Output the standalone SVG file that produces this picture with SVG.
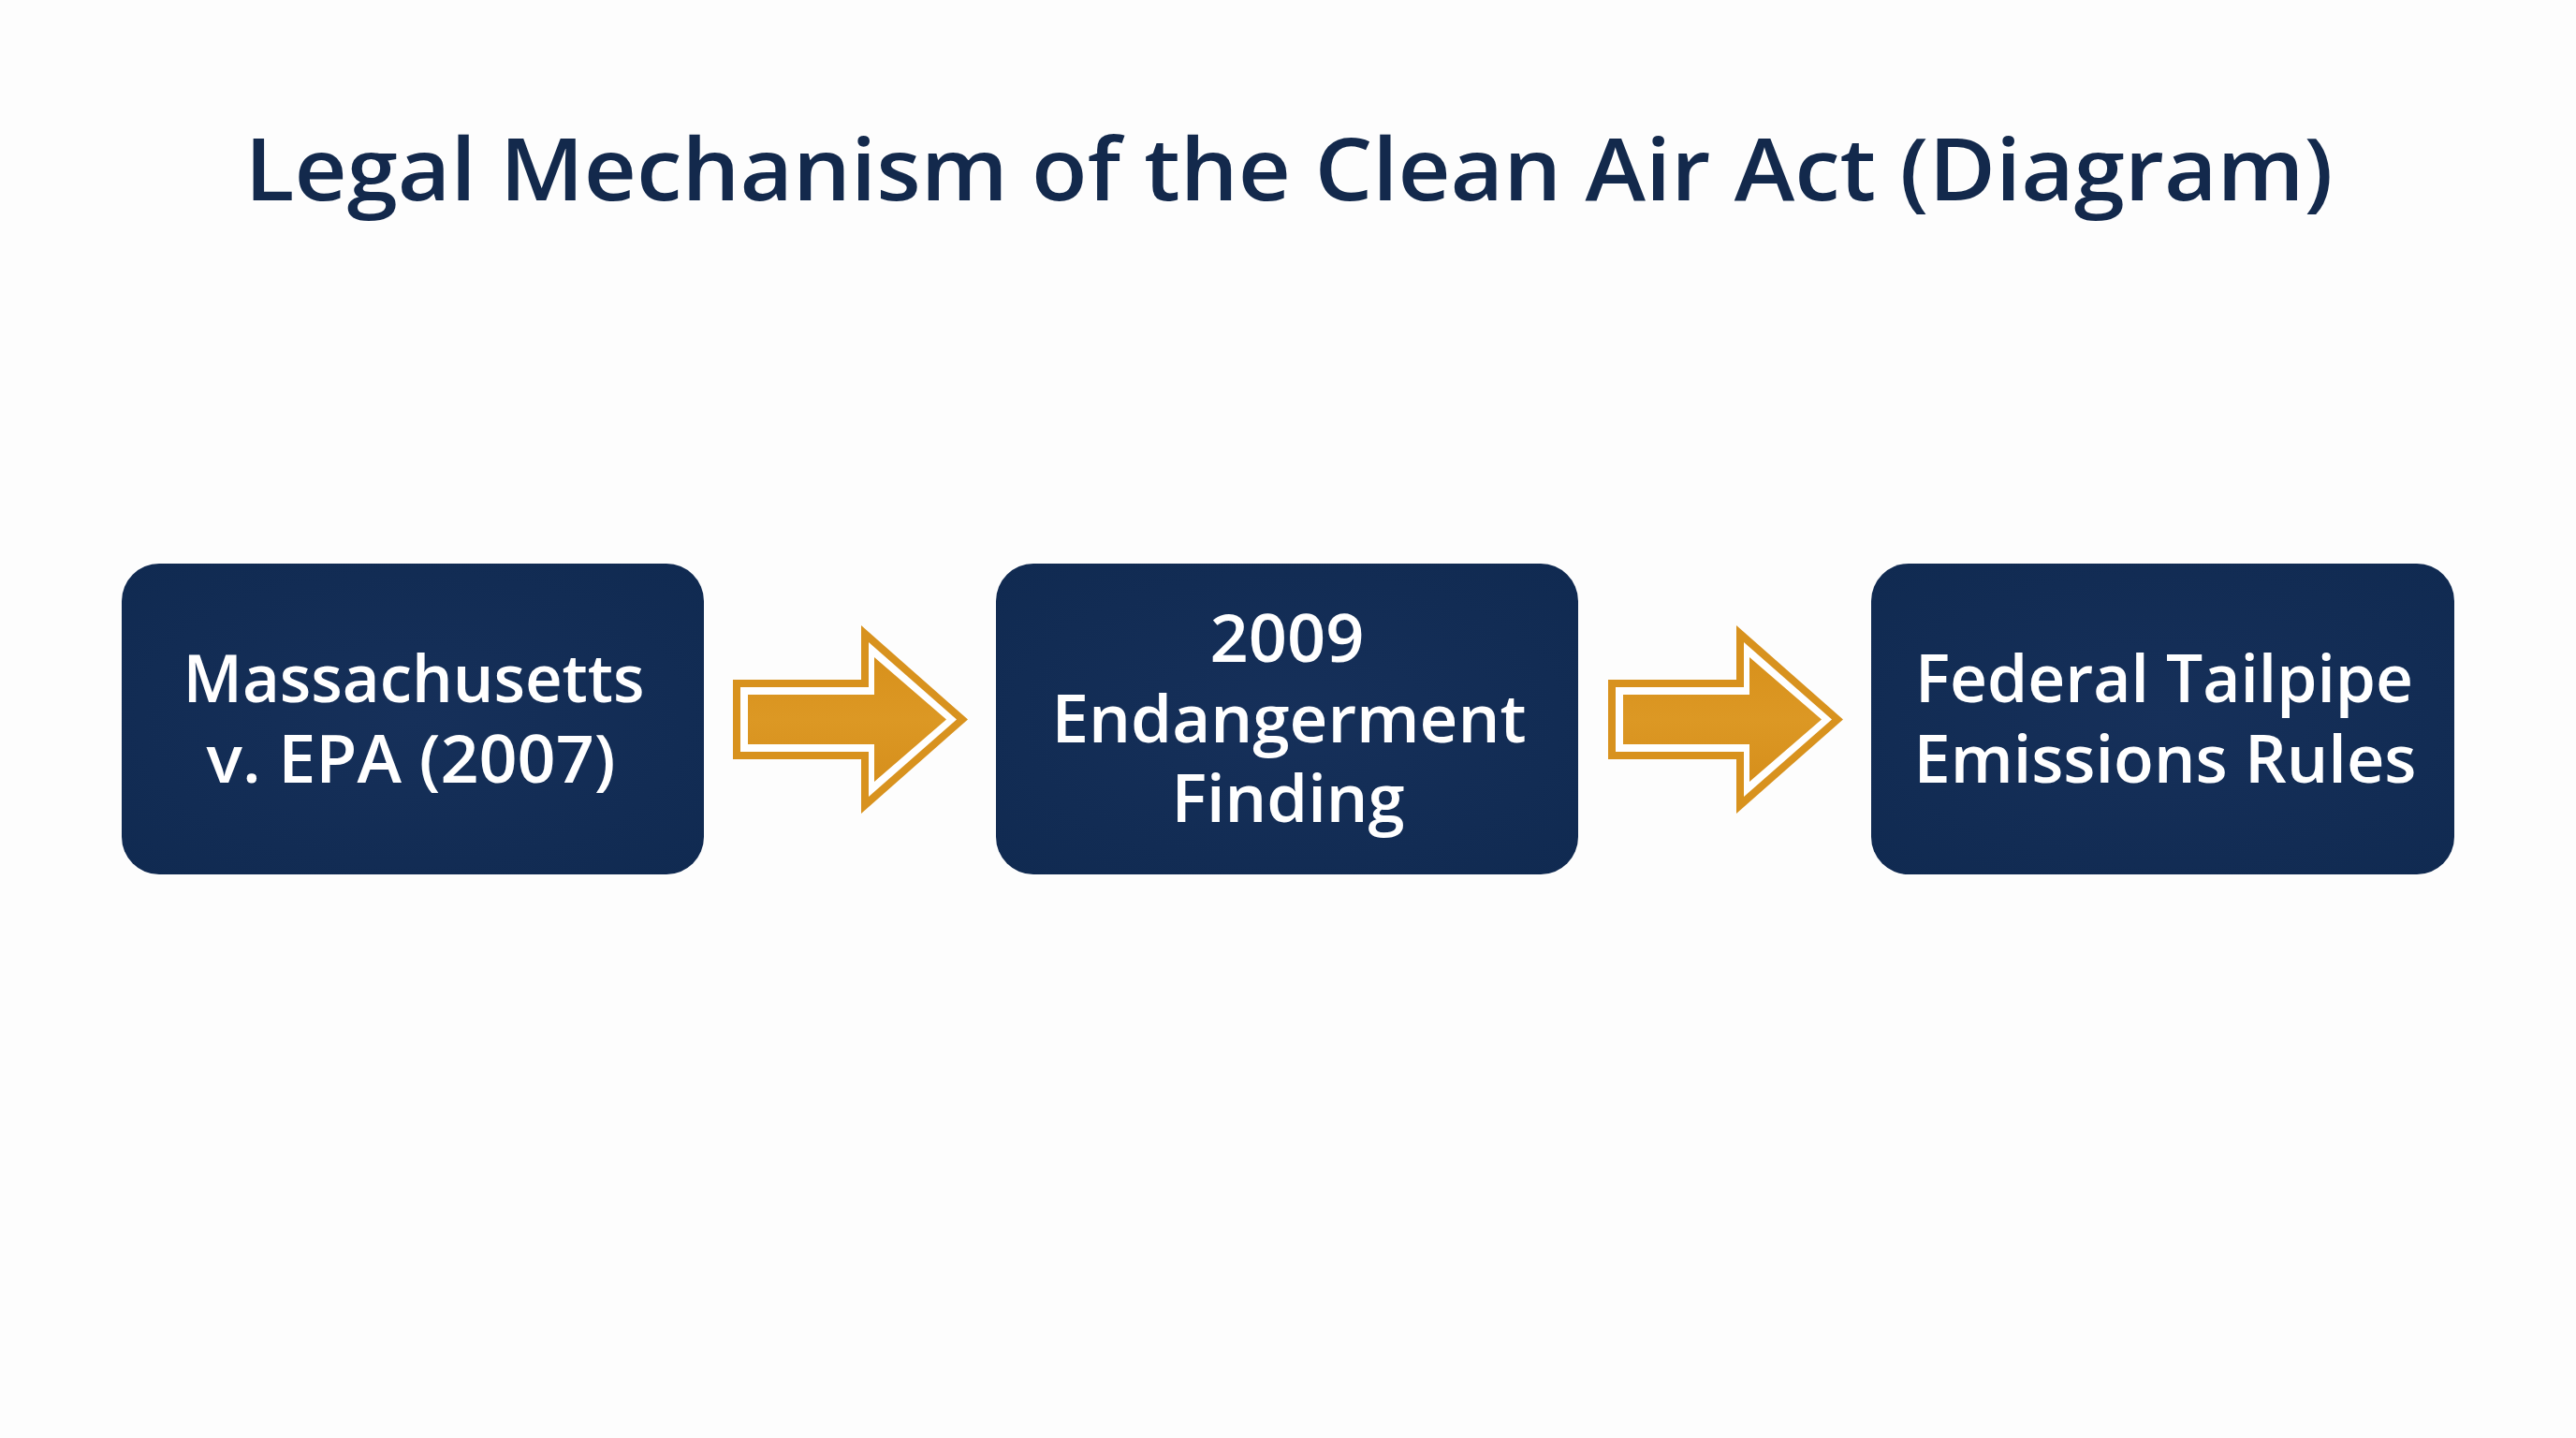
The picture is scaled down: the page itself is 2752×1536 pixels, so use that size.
<svg xmlns="http://www.w3.org/2000/svg" width="2752" height="1536" viewBox="0 0 2752 1536">
  <defs>
    <radialGradient id="boxGrad" cx="0.5" cy="0.5" r="0.7">
      <stop offset="0" stop-color="#16305a"/>
      <stop offset="1" stop-color="#102a51"/>
    </radialGradient>
    <linearGradient id="arrowGrad" x1="0" y1="0" x2="0" y2="1">
      <stop offset="0" stop-color="#d8911c"/>
      <stop offset="0.5" stop-color="#dc9824"/>
      <stop offset="1" stop-color="#d68f1c"/>
    </linearGradient>
    <g id="arrowShape">
      <polygon points="783,726 920,726 920,668 1034,768.5 920,869 920,811 783,811" fill="#d8921e"/>
      <polygon points="791,734 928,734 928,686 1022,768.5 928,851 928,803 791,803" fill="#ffffff"/>
      <polygon points="799,742 934,742 934,702 1011,768.5 934,835 934,795 799,795" fill="url(#arrowGrad)"/>
    </g>
  </defs>
  <style>
    .title { font-family: "Open Sans", "Liberation Sans", sans-serif; font-weight: 600; font-size: 92px; fill: #13294c; text-anchor: middle; }
    .box { fill: url(#boxGrad); }
    .label { font-family: "Open Sans", "Liberation Sans", sans-serif; font-weight: 600; font-size: 70px; fill: #ffffff; text-anchor: middle; }
  </style>
  <rect x="0" y="0" width="2752" height="1536" fill="#fdfdfd"/>
  <text class="title" x="1377" y="214" textLength="2231" lengthAdjust="spacingAndGlyphs">Legal Mechanism of the Clean Air Act (Diagram)</text>

  <g id="node-massachusetts">
    <rect class="box" x="130" y="602" width="622" height="332" rx="40" ry="40"/>
    <text class="label" x="442" y="750" textLength="493" lengthAdjust="spacingAndGlyphs">Massachusetts</text>
    <text class="label" x="439" y="836" textLength="437" lengthAdjust="spacingAndGlyphs">v. EPA (2007)</text>
  </g>

  <g id="node-endangerment">
    <rect class="box" x="1064" y="602" width="622" height="332" rx="40" ry="40"/>
    <text class="label" x="1375" y="707" textLength="165" lengthAdjust="spacingAndGlyphs">2009</text>
    <text class="label" x="1377" y="793" textLength="507" lengthAdjust="spacingAndGlyphs">Endangerment</text>
    <text class="label" x="1376" y="878" textLength="249" lengthAdjust="spacingAndGlyphs">Finding</text>
  </g>

  <g id="node-tailpipe">
    <rect class="box" x="1999" y="602" width="623" height="332" rx="40" ry="40"/>
    <text class="label" x="2312" y="750" textLength="532" lengthAdjust="spacingAndGlyphs">Federal Tailpipe</text>
    <text class="label" x="2313" y="836" textLength="537" lengthAdjust="spacingAndGlyphs">Emissions Rules</text>
  </g>

  <g id="connectors">
    <use href="#arrowShape"/>
    <use href="#arrowShape" transform="translate(935,0)"/>
  </g>
</svg>
